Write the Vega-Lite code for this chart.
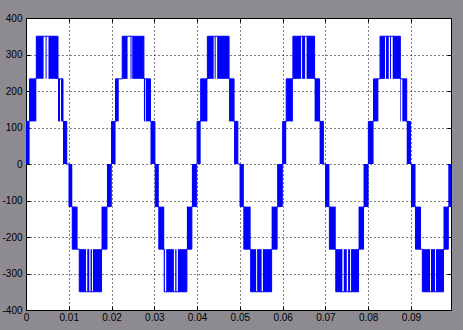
{
  "$schema": "https://vega.github.io/schema/vega-lite/v6.json",
  "width": 425,
  "height": 292,
  "autosize": {"type": "none"},
  "padding": {"left": 26, "top": 18, "right": 12, "bottom": 20},
  "background": "#8e8a91",
  "config": {
    "view": {"fill": "white", "stroke": "black", "strokeWidth": 1},
    "axis": {
      "labelFont": "Liberation Sans",
      "labelFontSize": 10,
      "labelColor": "black",
      "domain": false,
      "tickColor": "black",
      "tickWidth": 1,
      "tickSize": -4,
      "gridColor": "black",
      "gridDash": [1, 3],
      "gridOpacity": 1,
      "gridWidth": 1,
      "labelFlush": false,
      "labelOverlap": false,
      "labelBound": false,
      "title": null
    }
  },
  "datasets": {
    "bands": [
      {"a": 0, "b": 0.000841, "lo": 0, "hi": 116.7},
      {"a": 0.000841, "b": 0.002407, "lo": 116.7, "hi": 233.3},
      {"a": 0.002407, "b": 0.004112, "lo": 233.3, "hi": 350},
      {"a": 0.004579, "b": 0.004813, "lo": 233.3, "hi": 350},
      {"a": 0.005257, "b": 0.007477, "lo": 233.3, "hi": 350},
      {"a": 0.007477, "b": 0.007944, "lo": 116.7, "hi": 233.3},
      {"a": 0.008178, "b": 0.008645, "lo": 116.7, "hi": 233.3},
      {"a": 0.008645, "b": 0.009533, "lo": 0, "hi": 116.7},

      {"a": 0.010047, "b": 0.010818, "lo": -116.7, "hi": 0},
      {"a": 0.010818, "b": 0.012056, "lo": -233.3, "hi": -116.7},
      {"a": 0.012453, "b": 0.014019, "lo": -350, "hi": -233.3},
      {"a": 0.014322, "b": 0.01479, "lo": -350, "hi": -233.3},
      {"a": 0.015093, "b": 0.015421, "lo": -350, "hi": -233.3},
      {"a": 0.015654, "b": 0.017664, "lo": -350, "hi": -233.3},
      {"a": 0.017664, "b": 0.018925, "lo": -233.3, "hi": -116.7},
      {"a": 0.018925, "b": 0.01993, "lo": -116.7, "hi": 0},

      {"a": 0.02, "b": 0.020935, "lo": 0, "hi": 116.7},
      {"a": 0.020935, "b": 0.021682, "lo": 116.7, "hi": 233.3},
      {"a": 0.0225, "b": 0.023738, "lo": 233.3, "hi": 350},
      {"a": 0.024439, "b": 0.024673, "lo": 233.3, "hi": 350},
      {"a": 0.024836, "b": 0.02757, "lo": 233.3, "hi": 350},
      {"a": 0.02757, "b": 0.027874, "lo": 116.7, "hi": 233.3},
      {"a": 0.028037, "b": 0.029112, "lo": 116.7, "hi": 233.3},
      {"a": 0.029112, "b": 0.03014, "lo": 0, "hi": 116.7},

      {"a": 0.03021, "b": 0.031051, "lo": -116.7, "hi": 0},
      {"a": 0.031051, "b": 0.032313, "lo": -233.3, "hi": -116.7},
      {"a": 0.032313, "b": 0.032477, "lo": -350, "hi": -233.3},
      {"a": 0.03278, "b": 0.034579, "lo": -350, "hi": -233.3},
      {"a": 0.034883, "b": 0.035187, "lo": -350, "hi": -233.3},
      {"a": 0.035514, "b": 0.037617, "lo": -350, "hi": -233.3},
      {"a": 0.037617, "b": 0.038785, "lo": -233.3, "hi": -116.7},
      {"a": 0.038785, "b": 0.039907, "lo": -116.7, "hi": 0},

      {"a": 0.04, "b": 0.040841, "lo": 0, "hi": 116.7},
      {"a": 0.040841, "b": 0.042407, "lo": 116.7, "hi": 233.3},
      {"a": 0.042407, "b": 0.043879, "lo": 233.3, "hi": 350},
      {"a": 0.044112, "b": 0.044346, "lo": 233.3, "hi": 350},
      {"a": 0.044696, "b": 0.047477, "lo": 233.3, "hi": 350},
      {"a": 0.047477, "b": 0.048645, "lo": 116.7, "hi": 233.3},
      {"a": 0.048645, "b": 0.049533, "lo": 0, "hi": 116.7},

      {"a": 0.050047, "b": 0.050935, "lo": -116.7, "hi": 0},
      {"a": 0.050935, "b": 0.052523, "lo": -233.3, "hi": -116.7},
      {"a": 0.052523, "b": 0.053808, "lo": -350, "hi": -233.3},
      {"a": 0.054042, "b": 0.055093, "lo": -350, "hi": -233.3},
      {"a": 0.055397, "b": 0.05743, "lo": -350, "hi": -233.3},
      {"a": 0.05743, "b": 0.058715, "lo": -233.3, "hi": -116.7},
      {"a": 0.058715, "b": 0.05993, "lo": -116.7, "hi": 0},

      {"a": 0.06, "b": 0.060841, "lo": 0, "hi": 116.7},
      {"a": 0.060841, "b": 0.062407, "lo": 116.7, "hi": 233.3},
      {"a": 0.062407, "b": 0.064322, "lo": 233.3, "hi": 350},
      {"a": 0.064556, "b": 0.065257, "lo": 233.3, "hi": 350},
      {"a": 0.065607, "b": 0.067477, "lo": 233.3, "hi": 350},
      {"a": 0.067477, "b": 0.068645, "lo": 116.7, "hi": 233.3},
      {"a": 0.068645, "b": 0.069533, "lo": 0, "hi": 116.7},

      {"a": 0.070047, "b": 0.070935, "lo": -116.7, "hi": 0},
      {"a": 0.070935, "b": 0.07243, "lo": -233.3, "hi": -116.7},
      {"a": 0.07243, "b": 0.073972, "lo": -350, "hi": -233.3},
      {"a": 0.074299, "b": 0.075, "lo": -350, "hi": -233.3},
      {"a": 0.075304, "b": 0.075771, "lo": -350, "hi": -233.3},
      {"a": 0.076005, "b": 0.077757, "lo": -350, "hi": -233.3},
      {"a": 0.077757, "b": 0.078925, "lo": -233.3, "hi": -116.7},
      {"a": 0.078925, "b": 0.079977, "lo": -116.7, "hi": 0},

      {"a": 0.080047, "b": 0.081262, "lo": 0, "hi": 116.7},
      {"a": 0.081262, "b": 0.082383, "lo": 116.7, "hi": 233.3},
      {"a": 0.08278, "b": 0.083949, "lo": 233.3, "hi": 350},
      {"a": 0.084182, "b": 0.084813, "lo": 233.3, "hi": 350},
      {"a": 0.085117, "b": 0.08535, "lo": 233.3, "hi": 350},
      {"a": 0.085748, "b": 0.087523, "lo": 233.3, "hi": 350},
      {"a": 0.087523, "b": 0.087687, "lo": 116.7, "hi": 233.3},
      {"a": 0.087991, "b": 0.089019, "lo": 116.7, "hi": 233.3},
      {"a": 0.089019, "b": 0.089907, "lo": 0, "hi": 116.7},

      {"a": 0.09014, "b": 0.091075, "lo": -116.7, "hi": 0},
      {"a": 0.091075, "b": 0.09236, "lo": -233.3, "hi": -116.7},
      {"a": 0.092664, "b": 0.094463, "lo": -350, "hi": -233.3},
      {"a": 0.094696, "b": 0.095631, "lo": -350, "hi": -233.3},
      {"a": 0.095864, "b": 0.097617, "lo": -350, "hi": -233.3},
      {"a": 0.097617, "b": 0.098738, "lo": -233.3, "hi": -116.7},
      {"a": 0.098738, "b": 0.09937, "lo": -116.7, "hi": 0}
    ],
    "trace": [
      {"t": 0, "v": 116.7}, {"t": 0.000841, "v": 233.3}, {"t": 0.002407, "v": 350}, {"t": 0.007477, "v": 233.3}, {"t": 0.008645, "v": 116.7}, {"t": 0.009533, "v": 0},
      {"t": 0.010047, "v": -116.7}, {"t": 0.010818, "v": -233.3}, {"t": 0.012453, "v": -350}, {"t": 0.017664, "v": -233.3}, {"t": 0.018925, "v": -116.7}, {"t": 0.01993, "v": 0},
      {"t": 0.02, "v": 116.7}, {"t": 0.020935, "v": 233.3}, {"t": 0.0225, "v": 350}, {"t": 0.02757, "v": 233.3}, {"t": 0.029112, "v": 116.7}, {"t": 0.03014, "v": 0},
      {"t": 0.03021, "v": -116.7}, {"t": 0.031051, "v": -233.3}, {"t": 0.032313, "v": -350}, {"t": 0.037617, "v": -233.3}, {"t": 0.038785, "v": -116.7}, {"t": 0.039907, "v": 0},
      {"t": 0.04, "v": 116.7}, {"t": 0.040841, "v": 233.3}, {"t": 0.042407, "v": 350}, {"t": 0.047477, "v": 233.3}, {"t": 0.048645, "v": 116.7}, {"t": 0.049533, "v": 0},
      {"t": 0.050047, "v": -116.7}, {"t": 0.050935, "v": -233.3}, {"t": 0.052523, "v": -350}, {"t": 0.05743, "v": -233.3}, {"t": 0.058715, "v": -116.7}, {"t": 0.05993, "v": 0},
      {"t": 0.06, "v": 116.7}, {"t": 0.060841, "v": 233.3}, {"t": 0.062407, "v": 350}, {"t": 0.067477, "v": 233.3}, {"t": 0.068645, "v": 116.7}, {"t": 0.069533, "v": 0},
      {"t": 0.070047, "v": -116.7}, {"t": 0.070935, "v": -233.3}, {"t": 0.07243, "v": -350}, {"t": 0.077757, "v": -233.3}, {"t": 0.078925, "v": -116.7}, {"t": 0.079977, "v": 0},
      {"t": 0.080047, "v": 116.7}, {"t": 0.081262, "v": 233.3}, {"t": 0.08278, "v": 350}, {"t": 0.087523, "v": 233.3}, {"t": 0.089019, "v": 116.7}, {"t": 0.089907, "v": 0},
      {"t": 0.09014, "v": -116.7}, {"t": 0.091075, "v": -233.3}, {"t": 0.092664, "v": -350}, {"t": 0.097617, "v": -233.3}, {"t": 0.098738, "v": -116.7}, {"t": 0.09937, "v": -116.7}
    ]
  },
  "layer": [
    {
      "data": {"name": "bands"},
      "mark": {"type": "rect", "color": "#0000ff"},
      "encoding": {
        "x": {
          "field": "a", "type": "quantitative",
          "scale": {"domain": [0, 0.09937], "nice": false, "zero": false},
          "axis": {
            "orient": "bottom",
            "values": [0, 0.01, 0.02, 0.03, 0.04, 0.05, 0.06, 0.07, 0.08, 0.09],
            "labelExpr": "toString(datum.value)",
            "grid": true,
            "labelPadding": 6
          }
        },
        "x2": {"field": "b"},
        "y": {
          "field": "lo", "type": "quantitative",
          "scale": {"domain": [-400, 400], "nice": false, "zero": false},
          "axis": {
            "orient": "left",
            "values": [-400, -300, -200, -100, 0, 100, 200, 300, 400],
            "labelExpr": "toString(datum.value)",
            "grid": true,
            "labelPadding": 8
          }
        },
        "y2": {"field": "hi"}
      }
    },
    {
      "data": {"name": "trace"},
      "mark": {"type": "line", "interpolate": "step-after", "color": "#0000ff", "strokeWidth": 1},
      "encoding": {
        "x": {
          "field": "t", "type": "quantitative",
          "axis": {
            "orient": "top",
            "values": [0, 0.01, 0.02, 0.03, 0.04, 0.05, 0.06, 0.07, 0.08, 0.09],
            "labels": false,
            "grid": false
          }
        },
        "y": {
          "field": "v", "type": "quantitative",
          "axis": {
            "orient": "right",
            "values": [-400, -300, -200, -100, 0, 100, 200, 300, 400],
            "labels": false,
            "grid": false
          }
        }
      }
    }
  ],
  "resolve": {"axis": {"x": "independent", "y": "independent"}}
}
